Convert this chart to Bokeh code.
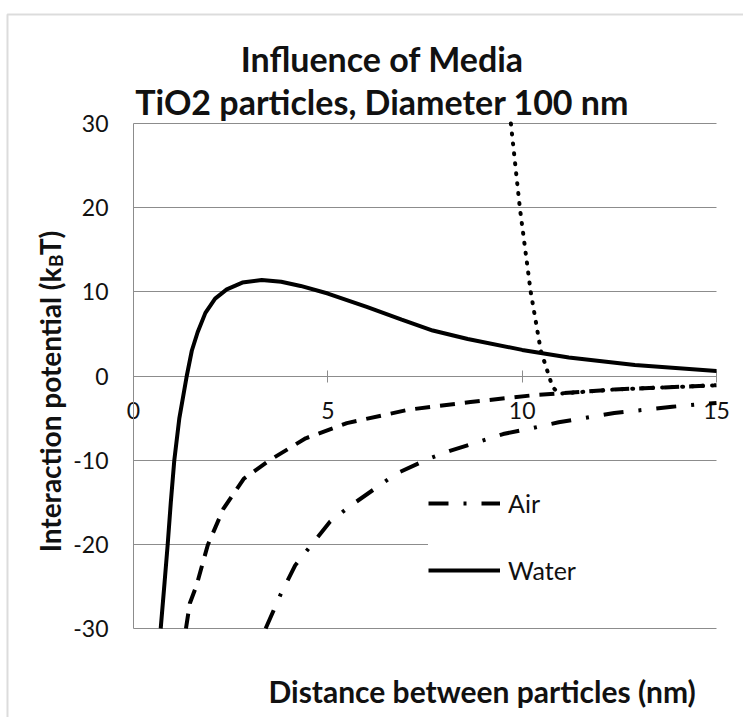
from bokeh.plotting import figure
from bokeh.models import (Range1d, FixedTicker, Label, Legend, LegendItem, BoxAnnotation,
                          PrintfTickFormatter)
from bokeh.embed import file_html
from bokeh.resources import INLINE

# ---- data ----
water_x = [0.70, 0.80, 0.88, 0.96, 1.05, 1.18, 1.37, 1.50, 1.65, 1.85, 2.10, 2.40, 2.80, 3.30, 3.80, 4.30, 5.00, 6.00, 6.90, 7.70, 8.60, 10.0, 11.2, 12.9, 15.0]
water_y = [-30.0, -24.5, -20.0, -15.0, -10.0, -5.0, 0.0, 3.0, 5.2, 7.5, 9.2, 10.3, 11.1, 11.4, 11.2, 10.7, 9.8, 8.2, 6.7, 5.4, 4.4, 3.1, 2.2, 1.3, 0.6]

air_x = [3.40, 3.79, 4.16, 4.59, 5.06, 5.59, 6.33, 6.76, 7.61, 8.14, 9.51, 10.25, 10.94, 12.37, 13.86, 15.0]
air_y = [-30.0, -25.9, -22.5, -20.0, -17.3, -15.4, -13.0, -11.6, -9.8, -8.9, -6.9, -6.2, -5.5, -4.4, -3.65, -3.2]

dash_x = [1.35, 1.45, 1.62, 1.91, 2.31, 2.84, 3.47, 4.43, 5.49, 7.08, 8.67, 10.25, 12.37, 15.0]
dash_y = [-30.0, -27.0, -24.9, -20.1, -15.8, -12.2, -10.1, -7.4, -5.6, -4.0, -3.1, -2.3, -1.6, -1.1]

dot_x = [9.71, 9.94, 10.22, 10.48, 10.69, 10.78, 10.95, 12.37, 15.0]
dot_y = [30.0, 20.0, 10.0, 3.0, 0.0, -1.3, -2.1, -1.6, -1.1]

x_ticks = [0, 5, 10, 15]
y_ticks = [-30, -20, -10, 0, 10, 20, 30]

title_1 = "Influence of Media"
title_2 = "TiO2 particles, Diameter 100 nm"
x_title = "Distance between particles (nm)"
y_title_a = "Interaction potential (k"
y_title_b = "B"
y_title_c = "T)"

FONT = "Lato"
GREY = "#8c8c8c"
TXT = "#111111"

# frame covers the whole canvas; plot area is x 0..15, y -30..30
p = figure(width=743, height=717, output_backend="svg", toolbar_location=None,
           title=None,
           x_range=Range1d(-3.422, 15.695), y_range=Range1d(-40.574, 44.614),
           min_border=0, min_border_left=0, min_border_right=0,
           min_border_top=0, min_border_bottom=0)
p.outline_line_color = None
p.background_fill_color = "white"
p.border_fill_color = "white"

# x axis crossing at y = 0
p.xaxis.fixed_location = 0
p.xaxis.bounds = (0, 15)
p.xaxis.ticker = FixedTicker(ticks=x_ticks)
p.xaxis.axis_line_color = GREY
p.xaxis.major_tick_line_color = GREY
p.xaxis.major_tick_in = 6
p.xaxis.major_tick_out = 6
p.xaxis.minor_tick_line_color = None
p.xaxis.major_label_standoff = 20
p.xaxis.major_label_text_font = FONT
p.xaxis.major_label_text_font_size = "23px"
p.xaxis.major_label_text_color = TXT
p.xaxis.level = "underlay"

p.yaxis.fixed_location = 0
p.yaxis.bounds = (-30, 30)
p.yaxis.ticker = FixedTicker(ticks=y_ticks)
p.yaxis.formatter = PrintfTickFormatter(format="%d")
p.yaxis.axis_line_color = GREY
p.yaxis.major_tick_line_color = None
p.yaxis.minor_tick_line_color = None
p.yaxis.major_tick_in = 0
p.yaxis.major_tick_out = 0
p.yaxis.major_label_standoff = 25
p.yaxis.major_label_text_font = FONT
p.yaxis.major_label_text_font_size = "23px"
p.yaxis.major_label_text_color = TXT

p.xgrid.visible = False
p.ygrid.ticker = FixedTicker(ticks=y_ticks)
p.ygrid.bounds = (-30, 30)
p.ygrid.cross_bounds = (0, 15)
p.ygrid.grid_line_color = GREY
p.ygrid.grid_line_width = 1

# curves
r_dash = p.line(dash_x, dash_y, line_color="black", line_width=4, line_dash="15 10")
r_dot = p.line(dot_x, dot_y, line_color="black", line_width=4, line_dash="1 9", line_cap="round")
r_air = p.line(air_x, air_y, line_color="black", line_width=4, line_dash="20 15 3 15")
r_water = p.line(water_x, water_y, line_color="black", line_width=4)

legend = Legend(items=[LegendItem(label="Air", renderers=[r_air]),
                       LegendItem(label="Water", renderers=[r_water])],
                location=(428, 132), orientation="vertical",
                padding=10, spacing=37, glyph_width=72, glyph_height=30,
                label_height=30, label_width=215, label_standoff=8,
                label_text_font=FONT, label_text_font_size="25px",
                label_text_color=TXT,
                border_line_color=None, background_fill_color="white",
                background_fill_alpha=1.0)
p.add_layout(legend)

# titles
p.add_layout(Label(x=6.40, y=37.7, text=title_1, text_align="center", text_baseline="middle",
                   text_font=FONT, text_font_style="bold", text_font_size="34px", text_color=TXT))
p.add_layout(Label(x=6.40, y=32.6, text=title_2, text_align="center", text_baseline="middle",
                   text_font=FONT, text_font_style="bold", text_font_size="34px", text_color=TXT))
p.add_layout(Label(x=8.97, y=-37.4, text=x_title, text_align="center", text_baseline="middle",
                   text_font=FONT, text_font_style="bold", text_font_size="30px", text_color=TXT))

# y title with subscript B
p.add_layout(Label(x=-2.14, y=12.89, text=y_title_a, angle=1.5708, text_align="right",
                   text_baseline="alphabetic", text_font=FONT, text_font_style="bold",
                   text_font_size="28px", text_color=TXT))
p.add_layout(Label(x=-2.00, y=12.95, text=y_title_b, angle=1.5708, text_align="left",
                   text_baseline="alphabetic", text_font=FONT, text_font_style="bold",
                   text_font_size="19px", text_color=TXT))
p.add_layout(Label(x=-2.14, y=14.35, text=y_title_c, angle=1.5708, text_align="left",
                   text_baseline="alphabetic", text_font=FONT, text_font_style="bold",
                   text_font_size="28px", text_color=TXT))

# chart-area border (runs off the right and bottom edges)
p.add_layout(BoxAnnotation(left=-3.242, right=40, top=42.95, bottom=-90,
                           fill_alpha=0, line_color=GREY, line_width=2, level="underlay"))

open("out.html", "w").write(file_html(p, INLINE))
